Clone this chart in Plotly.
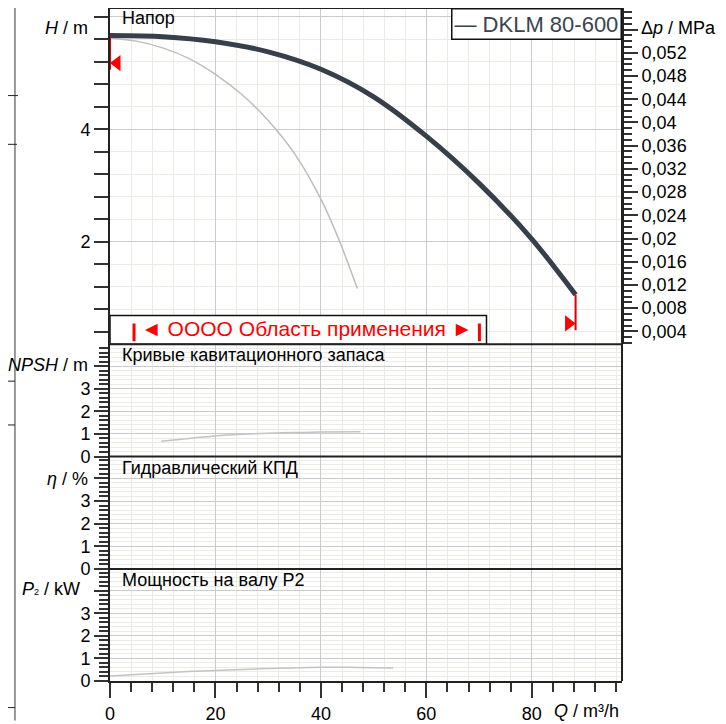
import plotly.graph_objects as go

# ---------------- data ----------------
series_name = "DKLM 80-600"

# Head curve, full speed
q_main = [0, 10, 20, 30, 40, 50, 60, 70, 80, 88.3]
h_main = [5.67, 5.65, 5.56, 5.38, 5.07, 4.58, 3.88, 3.04, 2.05, 1.06]

# Head curve, reduced speed (thin grey)
q_min = [0, 5, 10, 15, 20, 25, 30, 35, 40, 43.5, 46.9]
h_min = [5.62, 5.57, 5.45, 5.26, 4.98, 4.62, 4.16, 3.57, 2.76, 2.02, 1.17]

# NPSH curve
q_npsh = [9.7, 15, 20, 25, 30, 35, 40, 47.5]
npsh = [0.68, 0.80, 0.91, 0.98, 1.03, 1.06, 1.08, 1.10]

# Shaft power P2
q_p2 = [0, 10, 20, 30, 40, 47, 53.7]
p2 = [0.22, 0.36, 0.47, 0.55, 0.61, 0.60, 0.58]

# Operating limits (red markers) : Q, marker H, lower end of red line
limit_q = [0, 88.3]
limit_marker_h = [5.18, 0.55]
limit_line_low = [5.06, 0.43]

# Application range
app_q = [4.56, 70.06]
app_box_q_end = 71.4
app_text = "◄ OOOO Область применения ►"

# axis ticks
x_ticks = [0, 20, 40, 60, 80]
h_ticks = [2, 4, 6]
h_ticktext = ["2", "4", ""]
small_ticks = [0, 1, 2, 3, 4]
small_ticktext = ["0", "1", "2", "3", ""]
dp_ticks = [0.004, 0.008, 0.012, 0.016, 0.02, 0.024, 0.028, 0.032,
            0.036, 0.04, 0.044, 0.048, 0.052, 0.056]
dp_ticktext = ["0,004", "0,008", "0,012", "0,016", "0,02", "0,024", "0,028",
               "0,032", "0,036", "0,04", "0,044", "0,048", "0,052", ""]

panel_titles = ["Напор", "Кривые кавитационного запаса",
                "Гидравлический КПД", "Мощность на валу P2"]

# ---------------- geometry (reference pixel coordinates) ----------------
OFF = 8                      # page body margin of the browser
W, Hh = 726 - OFF, 724 - OFF
REF_LEFT, REF_RIGHT, REF_TOP, REF_BOTTOM = 110, 621.7, 8, 684.3
L = REF_LEFT - OFF
R = W - (REF_RIGHT - OFF)
T = REF_TOP - OFF
B = Hh - (REF_BOTTOM - OFF)
H_ZERO_PX, H_PX_PER_M = 356.0, 56.5
DP_ZERO_PX, DP_PX_PER_MPA = 356.3, 5833.0

X_RANGE = [0, 97.1]
H_RANGE = [(H_ZERO_PX - 346) / H_PX_PER_M, (H_ZERO_PX - REF_TOP) / H_PX_PER_M]
DP_RANGE = [(DP_ZERO_PX - 346) / DP_PX_PER_MPA, (DP_ZERO_PX - REF_TOP) / DP_PX_PER_MPA]
S_RANGE = [0, 4.965]


def px_x(xp):
    return (xp - REF_LEFT) / (REF_RIGHT - REF_LEFT)


def px_y(yp):
    return (REF_BOTTOM - yp) / (REF_BOTTOM - REF_TOP)


def h_at(yp):
    return (H_ZERO_PX - yp) / H_PX_PER_M


d1 = px_y(346)
d2 = px_y(458.7)
d3 = px_y(571.7)

FONT = "Liberation Sans, Arial, sans-serif"
AX = "#222222"
TK = "#333333"
GMAJ = "#cbcbcb"
GMIN = "#ecebe6"

fig = go.Figure()

# curves
fig.add_trace(go.Scatter(x=q_min, y=h_min, mode="lines",
                         line=dict(color="#bdbdbd", width=1.5, shape="spline", smoothing=0.8),
                         xaxis="x", yaxis="y"))
fig.add_trace(go.Scatter(x=q_main, y=h_main, mode="lines", name=series_name,
                         line=dict(color="#363f4a", width=5, shape="spline", smoothing=0.8),
                         xaxis="x", yaxis="y"))
fig.add_trace(go.Scatter(x=q_npsh, y=npsh, mode="lines",
                         line=dict(color="#c4c4c4", width=1.5, shape="spline"),
                         xaxis="x", yaxis="y2"))
fig.add_trace(go.Scatter(x=[], y=[], mode="lines", xaxis="x", yaxis="y3"))
fig.add_trace(go.Scatter(x=q_p2, y=p2, mode="lines",
                         line=dict(color="#c4c4c4", width=1.5, shape="spline"),
                         xaxis="x", yaxis="y4"))
fig.add_trace(go.Scatter(x=[], y=[], mode="lines", xaxis="x", yaxis="y5"))

# red limit lines and markers
ends = [h_main[0], h_main[-1]]
for i in range(2):
    fig.add_trace(go.Scatter(x=[limit_q[i], limit_q[i]], y=[ends[i], limit_line_low[i]],
                             mode="lines", line=dict(color="#e00000", width=2),
                             cliponaxis=False, xaxis="x", yaxis="y"))
msize = 14
r_units = (msize / 2) / ((REF_RIGHT - REF_LEFT) / (X_RANGE[1] - X_RANGE[0]))
fig.add_trace(go.Scatter(x=[limit_q[0] + r_units, limit_q[1] - r_units], y=limit_marker_h,
                         mode="markers", cliponaxis=False,
                         marker=dict(symbol=["triangle-left", "triangle-right"],
                                     size=msize, color="#ff0000", line=dict(width=0)),
                         xaxis="x", yaxis="y"))

minor_common = dict(ticks="outside", tickcolor=TK, showgrid=True, gridcolor=GMIN, gridwidth=1)

fig.update_layout(
    width=W, height=Hh,
    margin=dict(l=L, r=R, t=T, b=B, pad=0),
    paper_bgcolor="white", plot_bgcolor="white",
    showlegend=False, hovermode=False,
    font=dict(family=FONT, size=18, color="#000000"),
    xaxis=dict(domain=[0, 1], range=X_RANGE, anchor="y4", showline=True, linecolor=AX,
               linewidth=2, ticks="outside", ticklen=15, tickwidth=1.5, tickcolor=TK,
               tickvals=x_ticks, showgrid=True, gridcolor=GMAJ, gridwidth=1, zeroline=False,
               minor=dict(dtick=4, tick0=0, ticklen=9, **minor_common),
               tickfont=dict(size=18)),
    yaxis=dict(domain=[d1, 1], range=H_RANGE, anchor="x", showline=True, linecolor=AX,
               linewidth=2, ticks="outside", ticklen=14, tickwidth=1.5, tickcolor=TK,
               tickvals=h_ticks, ticktext=h_ticktext, showgrid=True, gridcolor=GMAJ,
               zeroline=False, minor=dict(dtick=0.4, tick0=0, ticklen=14, **minor_common)),
    yaxis5=dict(overlaying="y", side="right", anchor="x", range=DP_RANGE, showline=True,
                linecolor=AX, linewidth=2, ticks="outside", ticklen=14, tickwidth=1.5,
                tickcolor=TK, tickvals=dp_ticks, ticktext=dp_ticktext, showgrid=False,
                zeroline=False,
                minor=dict(dtick=0.001, tick0=0, ticklen=8, ticks="outside", tickcolor=TK,
                           showgrid=False)),
)
doms = {"yaxis2": [d2, d1], "yaxis3": [d3, d2], "yaxis4": [0, d3]}
for name, dom in doms.items():
    fig.layout[name] = dict(domain=dom, range=S_RANGE, anchor="x", showline=True,
                            linecolor=AX, linewidth=2, ticks="outside", ticklen=14,
                            tickwidth=1.5, tickcolor=TK, tickvals=small_ticks,
                            ticktext=small_ticktext, showgrid=True, gridcolor=GMAJ,
                            zeroline=False,
                            minor=dict(dtick=0.2, tick0=0, ticklen=9, **minor_common))

shapes = []
# application range box (white, hides grid)
shapes.append(dict(type="rect", xref="x", yref="y", x0=X_RANGE[0], x1=app_box_q_end,
                   y0=H_RANGE[0], y1=h_at(317), fillcolor="white",
                   line=dict(color="#111111", width=1.5), layer="between"))
for q in app_q:
    shapes.append(dict(type="line", xref="x", yref="y", x0=q, x1=q,
                       y0=h_at(343), y1=h_at(325),
                       line=dict(color="#ff0000", width=3)))
# panel separators and frame
for yy in [1, d1, d2, d3]:
    shapes.append(dict(type="line", xref="paper", yref="paper", x0=0, x1=1, y0=yy, y1=yy,
                       line=dict(color=AX, width=2)))
shapes.append(dict(type="line", xref="paper", yref="paper", x0=1, x1=1, y0=0, y1=1,
                   line=dict(color=AX, width=2)))
# left page artefacts
shapes.append(dict(type="line", xref="paper", yref="paper", x0=px_x(15), x1=px_x(15),
                   y0=px_y(724), y1=px_y(0), line=dict(color="#777777", width=1.5)))
for yp, xe in [(96, 18), (145, 17), (383, 15), (427, 15), (711, 15)]:
    shapes.append(dict(type="line", xref="paper", yref="paper", x0=px_x(0), x1=px_x(xe),
                       y0=px_y(yp), y1=px_y(yp), line=dict(color="#222222", width=1)))
fig.update_layout(shapes=shapes)

ann = []
ann.append(dict(text=app_text, xref="x", yref="y", x=(app_q[0] + app_q[1]) / 2,
                y=h_at(330), showarrow=False, font=dict(size=21, color="#ff0000")))
title_y = [18, 357, 470, 583]
for t, yp in zip(panel_titles, title_y):
    ann.append(dict(text=t, xref="paper", yref="paper", x=px_x(120), y=px_y(yp),
                    xanchor="left", yanchor="middle", showarrow=False, font=dict(size=18)))
ann.append(dict(text="<i>H</i> / m", xref="paper", yref="paper", x=px_x(90), y=px_y(28),
                xanchor="right", yanchor="middle", showarrow=False))
ann.append(dict(text="<i>NPSH</i> / m", xref="paper", yref="paper", x=px_x(90),
                y=px_y(367), xanchor="right", yanchor="middle", showarrow=False))
ann.append(dict(text="<i>η</i> / %", xref="paper", yref="paper", x=px_x(90),
                y=px_y(481), xanchor="right", yanchor="middle", showarrow=False))
ann.append(dict(text="<i>P</i><span style='font-size:9px'>2</span> / kW", xref="paper",
                yref="paper", x=px_x(82), y=px_y(592), xanchor="right", yanchor="middle",
                showarrow=False))
ann.append(dict(text="Δ<i>p</i> / MPa", xref="paper", yref="paper", x=px_x(639),
                y=px_y(28), xanchor="left", yanchor="middle", showarrow=False))
ann.append(dict(text="<i>Q</i> / m³/h", xref="paper", yref="paper", x=px_x(552),
                y=px_y(714), xanchor="left", yanchor="middle", showarrow=False))
ann.append(dict(text="— " + series_name, xref="paper", yref="paper", x=px_x(622),
                y=1, xanchor="right", yanchor="top", showarrow=False,
                bgcolor="white", bordercolor="#111111", borderwidth=1.5, borderpad=2,
                font=dict(size=22, color="#3a4450")))
fig.update_layout(annotations=ann)

fig.write_html("out.html")
